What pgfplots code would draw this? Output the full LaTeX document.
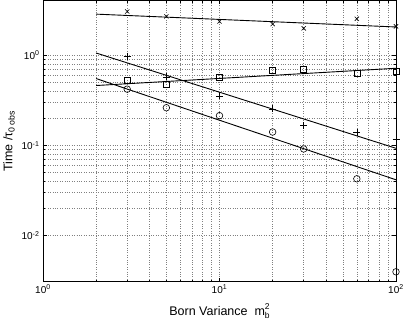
\documentclass[border=0pt]{standalone}
\usepackage{fontspec}
\setmainfont{Liberation Sans}
\usepackage{pgfplots}
\pgfplotsset{compat=1.18}

\begin{document}
\begin{tikzpicture}
\begin{axis}[
  xmode=log, ymode=log,
  scale only axis,
  width=353pt, height=281pt,
  xmin=1, xmax=100,
  ymin=0.0031, ymax=4.05,
  xtick={1,10,100},
  xticklabels={10\textsuperscript{0},10\textsuperscript{1},10\textsuperscript{2}},
  ytick={0.01,0.1,1},
  yticklabels={10\textsuperscript{-2},10\textsuperscript{-1},10\textsuperscript{0}},
  tick label style={font=\fontsize{10}{12}\selectfont},
  label style={font=\fontsize{12.5}{14}\selectfont},
  xlabel={Born Variance\ \ m\raisebox{-3pt}{\fontsize{8.5}{9}\selectfont b}\kern-4.8pt\raisebox{6.5pt}{\fontsize{8.5}{9}\selectfont 2}},
  ylabel={Time /τ\textsubscript{0 obs}},
  xlabel style={at={(axis description cs:0.5,-0.121)}, anchor=base},
  ylabel style={at={(axis description cs:-0.096,0.5)}, anchor=center},
  tick align=inside,
  major tick length=4pt, minor tick length=2pt,
  grid=both,
  major grid style={dotted, draw=black!50, line width=0.5pt},
  minor grid style={dotted, draw=black!50, line width=0.5pt},
  axis line style={draw=black, line width=0.8pt},
  every tick/.style={black, line width=0.5pt},
]

% fitted lines
\addplot[black, line width=0.9pt, no marks] coordinates {(2,2.86) (100,2.06)};
\addplot[black, line width=0.9pt, no marks] coordinates {(2,1.06) (100,0.093)};
\addplot[black, line width=0.9pt, no marks] coordinates {(2,0.462) (100,0.718)};
\addplot[black, line width=0.9pt, no marks] coordinates {(2,0.552) (100,0.0416)};

% data points
\addplot[only marks, mark=x, mark size=3pt, black, line width=0.6pt] coordinates {
  (3,3.06) (5,2.70) (10,2.37) (20,2.22) (30,1.99) (60,2.54) (100,2.09)
};
\addplot[only marks, mark=+, mark size=3.5pt, black, line width=0.6pt] coordinates {
  (3,0.98) (5,0.575) (10,0.355) (20,0.255) (30,0.166) (60,0.141) (100,0.117)
};
\addplot[only marks, mark=square, mark size=3pt, black, line width=0.6pt] coordinates {
  (3,0.53) (5,0.482) (10,0.575) (20,0.683) (30,0.70) (60,0.638) (100,0.671)
};
\addplot[only marks, mark=o, mark size=3.3pt, black, line width=0.6pt] coordinates {
  (3,0.421) (5,0.262) (10,0.214) (20,0.141) (30,0.0915) (60,0.0427) (100,0.00397)
};

\end{axis}
% fix the page to the reference's frame round the axis
\pgfresetboundingbox
\path ([xshift=-43pt,yshift=-43.5pt]current axis.south west) rectangle ([xshift=13pt,yshift=0.5pt]current axis.north east);
\end{tikzpicture}
\end{document}
